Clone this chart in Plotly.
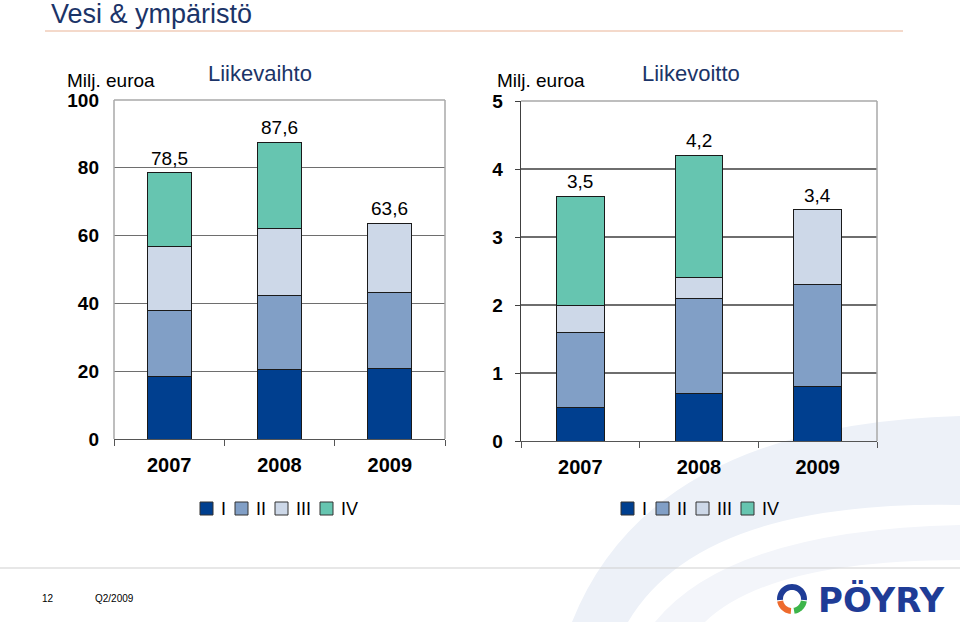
import math
import plotly.graph_objects as go

# ---------------- data ----------------
years = ["2007", "2008", "2009"]
quarters = ["I", "II", "III", "IV"]
quarter_colors = ["#003f8f", "#819fc6", "#cdd8e8", "#66c5b0"]

# Liikevaihto (net sales), MEUR per quarter
sales_I = [18.3, 20.4, 20.9]
sales_II = [19.5, 21.8, 22.2]
sales_III = [19.1, 20.0, 20.5]
sales_IV = [21.6, 25.4, None]
sales_labels = ["78,5", "87,6", "63,6"]

# Liikevoitto (operating profit), MEUR per quarter
ebit_I = [0.5, 0.7, 0.8]
ebit_II = [1.1, 1.4, 1.5]
ebit_III = [0.4, 0.3, 1.1]
ebit_IV = [1.6, 1.8, None]
ebit_labels = ["3,5", "4,2", "3,4"]

sales_ticks = [0, 20, 40, 60, 80, 100]
ebit_ticks = [0, 1, 2, 3, 4, 5]

title_text = "Vesi & ympäristö"
unit_text = "Milj. euroa"
sales_title = "Liikevaihto"
ebit_title = "Liikevoitto"
page_no = "12"
period_text = "Q2/2009"
logo_text = "PÖYRY"

# ---------------- helpers ----------------
W, H = 960, 622
FONT = "Liberation Sans, Arial, sans-serif"
NAVY = "#1b3468"


def px(x):
    return x / W


def py(y):
    return 1 - y / H


def pt(x, y):
    return f"{px(x):.5f},{py(y):.5f}"


fig = go.Figure()

sales_series = [sales_I, sales_II, sales_III, sales_IV]
ebit_series = [ebit_I, ebit_II, ebit_III, ebit_IV]

for name, vals, col in zip(quarters, sales_series, quarter_colors):
    fig.add_trace(go.Bar(x=years, y=vals, name=name, marker_color=col,
                         marker_line=dict(color="#1a1a1a", width=1),
                         width=0.4, xaxis="x", yaxis="y", showlegend=False))
for name, vals, col in zip(quarters, ebit_series, quarter_colors):
    fig.add_trace(go.Bar(x=years, y=vals, name=name, marker_color=col,
                         marker_line=dict(color="#1a1a1a", width=1),
                         width=0.4, xaxis="x2", yaxis="y2", showlegend=False))

# plot area boxes (pixels)
L1, R1, T1, B1 = 114, 445, 100, 439
L2, R2, T2, B2 = 521, 877, 101, 441

xcommon = dict(type="category", range=[-0.5, len(years) - 0.5], automargin=False,
               tickson="boundaries", ticks="outside", ticklen=6,
               tickcolor="#555555", showline=True, linecolor="#555555", linewidth=1.3,
               tickfont=dict(family=FONT, size=20, color="black", weight="bold"),
               ticklabelstandoff=8, tickangle=0, showgrid=False, fixedrange=True)

fig.update_layout(
    width=W, height=H, margin=dict(l=0, r=0, t=0, b=0, autoexpand=False),
    paper_bgcolor="white", plot_bgcolor="white", barmode="stack",
    xaxis=dict(domain=[px(L1), px(R1)], anchor="y", **xcommon),
    xaxis2=dict(domain=[px(L2), px(R2)], anchor="y2", **xcommon),
    yaxis=dict(domain=[py(B1), py(T1)], anchor="x", range=[0, 100], tickvals=sales_ticks,
               automargin=False,
               showgrid=True, gridcolor="#6e6e6e", gridwidth=1.3, zeroline=False,
               showline=False, ticks="",
               tickfont=dict(family=FONT, size=19, color="black", weight="bold"),
               ticklabelstandoff=14, fixedrange=True),
    yaxis2=dict(domain=[py(B2), py(T2)], anchor="x2", range=[0, 5], tickvals=ebit_ticks,
                automargin=False,
                showgrid=True, gridcolor="#6e6e6e", gridwidth=1.3, zeroline=False,
                showline=True, linecolor="#404040", linewidth=1.3,
                ticks="outside", ticklen=5, tickcolor="#404040",
                tickfont=dict(family=FONT, size=19, color="black", weight="bold"),
                ticklabelstandoff=8, fixedrange=True),
    showlegend=False,
    hovermode=False,
)

shapes = []
annotations = []

# background swoosh (light blue bands)
shapes.append(dict(type="path", xref="paper", yref="paper", layer="below",
                   path=f"M {pt(572,622)} Q {pt(650,425)} {pt(960,416)} L {pt(960,505)} "
                        f"Q {pt(700,500)} {pt(628,622)} Z",
                   fillcolor="#edf1f8", line=dict(width=0)))
shapes.append(dict(type="path", xref="paper", yref="paper", layer="below",
                   path=f"M {pt(655,622)} Q {pt(730,530)} {pt(960,525)} L {pt(960,560)} "
                        f"Q {pt(770,560)} {pt(705,622)} Z",
                   fillcolor="#f3f5fa", line=dict(width=0)))

# title + rule
annotations.append(dict(text=title_text, xref="paper", yref="paper", x=px(49), y=py(14),
                        xanchor="left", yanchor="middle", showarrow=False,
                        font=dict(family=FONT, size=27, color=NAVY)))
shapes.append(dict(type="line", xref="paper", yref="paper", x0=px(45), x1=px(903),
                   y0=py(31), y1=py(31), line=dict(color="#e9b396", width=1)))

# plot borders (light grey top/left/right)
for (l, r, t, b, left_border) in [(L1, R1, T1, B1, True), (L2, R2, T2, B2, False)]:
    shapes.append(dict(type="line", xref="paper", yref="paper", x0=px(l), x1=px(r),
                       y0=py(t), y1=py(t), line=dict(color="#a8a8a8", width=1.5), layer="above"))
    shapes.append(dict(type="line", xref="paper", yref="paper", x0=px(r), x1=px(r),
                       y0=py(t), y1=py(b), line=dict(color="#a8a8a8", width=1.5), layer="above"))
    if left_border:
        shapes.append(dict(type="line", xref="paper", yref="paper", x0=px(l), x1=px(l),
                           y0=py(t), y1=py(b), line=dict(color="#a8a8a8", width=1.5), layer="above"))

# unit labels and chart titles
for xl, xt, ttl in [(65, 260, sales_title), (495, 691, ebit_title)]:
    annotations.append(dict(text=unit_text, xref="paper", yref="paper", x=px(xl), y=py(80),
                            xanchor="left", yanchor="middle", showarrow=False,
                            font=dict(family=FONT, size=19, color="black")))
    annotations.append(dict(text=ttl, xref="paper", yref="paper", x=px(xt), y=py(73),
                            xanchor="center", yanchor="middle", showarrow=False,
                            font=dict(family=FONT, size=22, color=NAVY)))

# total labels above bars (category axes take the category index)
for xa, ya, series, labels in [("x", "y", sales_series, sales_labels),
                               ("x2", "y2", ebit_series, ebit_labels)]:
    for i, yr in enumerate(years):
        total = sum(v[i] for v in series if v[i] is not None)
        annotations.append(dict(text=labels[i], xref=xa, yref=ya, x=i, y=total,
                                xanchor="center", yanchor="bottom", yshift=2, showarrow=False,
                                font=dict(family=FONT, size=19, color="black")))

# legends (manual, built from quarter names / colours)
text_w = {"I": 5, "II": 10, "III": 15, "IV": 17}
for start in (200, 621):
    x = start
    for name, col in zip(quarters, quarter_colors):
        shapes.append(dict(type="rect", xref="paper", yref="paper", x0=px(x), x1=px(x + 13),
                           y0=py(515), y1=py(502), fillcolor=col,
                           line=dict(color="#333333", width=1)))
        annotations.append(dict(text=name, xref="paper", yref="paper", x=px(x + 19), y=py(509),
                                xanchor="left", yanchor="middle", showarrow=False,
                                font=dict(family=FONT, size=18, color="black")))
        x += 20 + text_w[name] + 10

# footer
shapes.append(dict(type="line", xref="paper", yref="paper", x0=0, x1=1,
                   y0=py(568), y1=py(568), line=dict(color="#cfcfcf", width=1)))
annotations.append(dict(text=page_no, xref="paper", yref="paper", x=px(40), y=py(598),
                        xanchor="left", yanchor="middle", showarrow=False,
                        font=dict(family=FONT, size=10, color="black")))
annotations.append(dict(text=period_text, xref="paper", yref="paper", x=px(93), y=py(598),
                        xanchor="left", yanchor="middle", showarrow=False,
                        font=dict(family=FONT, size=10, color="black")))

# logo mark: three ring segments
cx, cy = 792, 599


def ring(a0, a1, ro, ri, n=24):
    pts = []
    for k in range(n + 1):
        a = math.radians(a0 + (a1 - a0) * k / n)
        pts.append((cx + ro * math.cos(a), cy - ro * math.sin(a)))
    for k in range(n + 1):
        a = math.radians(a1 - (a1 - a0) * k / n)
        pts.append((cx + ri * math.cos(a), cy - ri * math.sin(a)))
    return "M " + " L ".join(pt(a, b) for a, b in pts) + " Z"


for a0, a1, col in [(-5, 185, "#1f3c96"), (190, 265, "#ee6a2c"), (280, 350, "#3db54a")]:
    shapes.append(dict(type="path", xref="paper", yref="paper", path=ring(a0, a1, 15, 9),
                       fillcolor=col, line=dict(width=0)))

annotations.append(dict(text=f"<b>{logo_text}</b>", xref="paper", yref="paper", x=px(816),
                        y=py(600), xanchor="left", yanchor="middle", showarrow=False,
                        font=dict(family="DejaVu Sans, sans-serif", size=34, color="#1f3c96")))

fig.update_layout(shapes=shapes, annotations=annotations)
fig.write_html("out.html", config={"displayModeBar": False, "staticPlot": True},
               post_script="document.body.style.margin='0px';document.body.style.overflow='hidden';")
